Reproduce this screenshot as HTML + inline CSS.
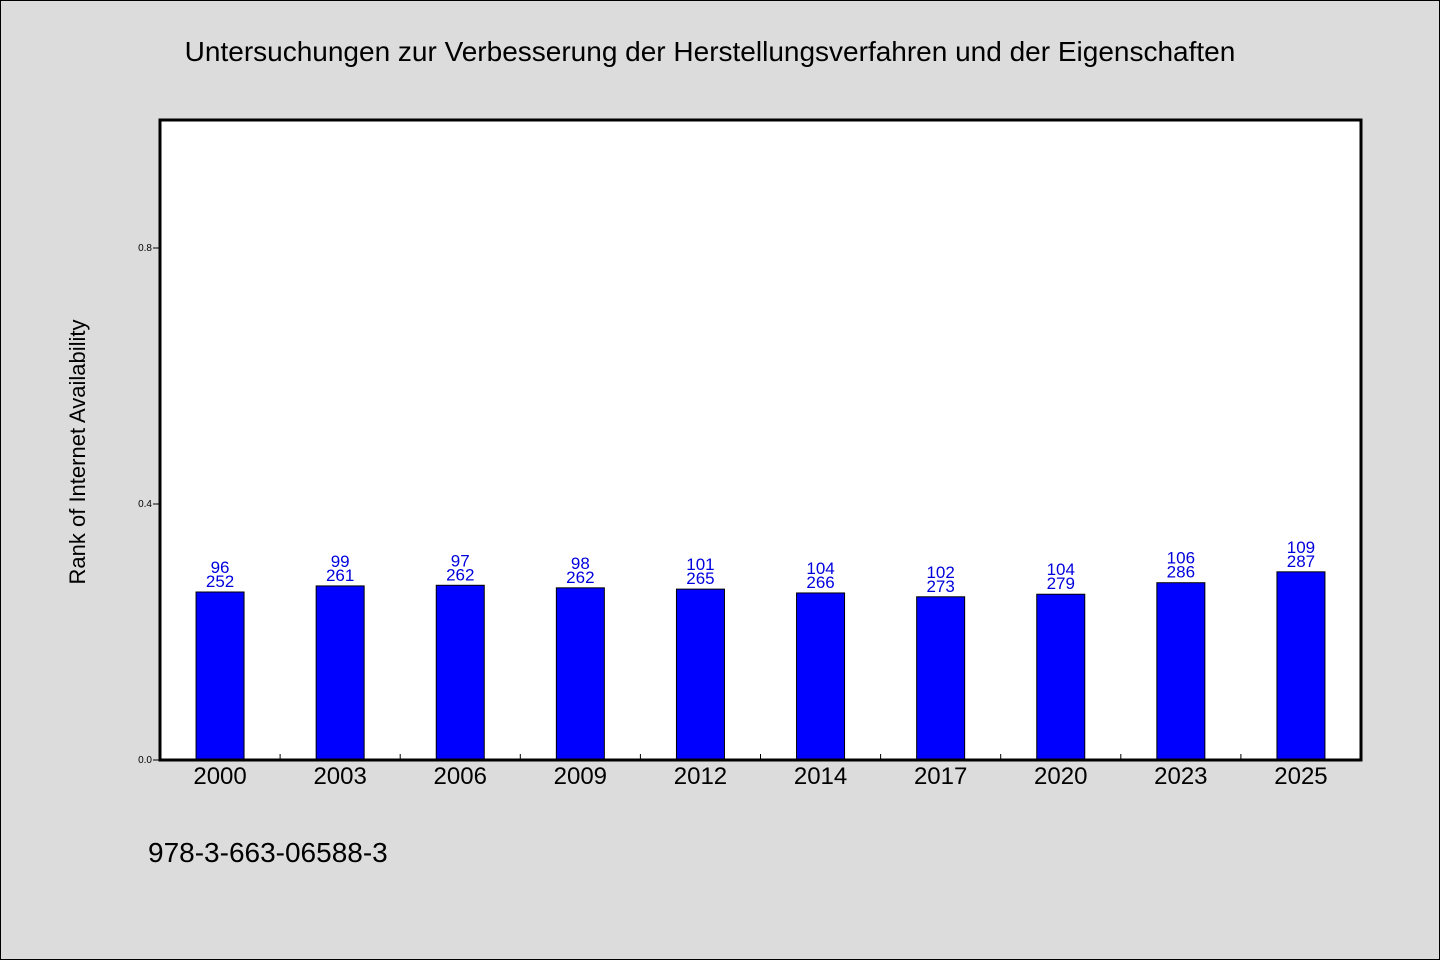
<!DOCTYPE html>
<html><head><meta charset="utf-8"><style>
body{margin:0;background:#dcdcdc;}
svg{display:block;font-family:"WenQuanYi Zen Hei","Liberation Sans",sans-serif;}
</style></head><body>
<svg id="chart" width="1440" height="960" xmlns="http://www.w3.org/2000/svg">
<rect x="0.5" y="0.5" width="1439" height="959" fill="#dcdcdc" stroke="#000"/>
<text x="710" y="61" font-size="28" text-anchor="middle" fill="#000">Untersuchungen zur Verbesserung der Herstellungsverfahren und der Eigenschaften</text>
<rect x="160" y="120" width="1201" height="640" fill="#fff"/>
<g id="marks"></g>
<rect x="160" y="120" width="1201" height="640" fill="none" stroke="#000" stroke-width="3"/>
<text transform="translate(85,452) rotate(-90)" font-size="22" text-anchor="middle" fill="#000">Rank of Internet Availability</text>
<text x="148" y="862" font-size="28" fill="#000">978-3-663-06588-3</text>
</svg>
<script>
const categories=["2000","2003","2006","2009","2012","2014","2017","2020","2023","2025"];
const values=[0.2625,0.272,0.273,0.269,0.267,0.261,0.255,0.259,0.277,0.294];
const labelTop=["96","99","97","98","101","104","102","104","106","109"];
const labelBottom=["252","261","262","262","265","266","273","279","286","287"];
const yTicks=[0,0.4,0.8];
const yTickLabels=["0.0","0.4","0.8"];
const NS="http://www.w3.org/2000/svg";
const X0=160,X1=1361,Y0=760,Y1=120;
const step=(X1-X0)/categories.length;
const y=v=>Y0-v*(Y0-Y1)/1.0;
const xc=i=>X0+step*(i+0.5);
const g=document.getElementById('marks');
function mk(t,a){const e=document.createElementNS(NS,t);for(const k in a)e.setAttribute(k,a[k]);g.appendChild(e);return e;}
yTicks.forEach((v,i)=>{
  const l=mk('line',{x1:X0-7,x2:X0,y1:y(v),y2:y(v),stroke:'#000'});
  
  
  const t=mk('text',{x:X0-8,y:y(v)+3,'font-size':10,'text-anchor':'end'});
  t.textContent=yTickLabels[i];
  
  
});
categories.forEach((c,i)=>{
  if(i>0){const tk=mk('line',{x1:X0+step*i,x2:X0+step*i,y1:Y0,y2:Y0-6,stroke:'#000'});
  
  }
  const b=mk('rect',{x:xc(i)-24,y:y(values[i]),width:48,height:Y0-y(values[i]),fill:'#0000ff',stroke:'#000','stroke-width':1});
  
  
  const t1=mk('text',{x:xc(i),y:y(values[i])-19,'font-size':17,'text-anchor':'middle',fill:'#0000dd'});
  t1.textContent=labelTop[i];
  
  
  const t2=mk('text',{x:xc(i),y:y(values[i])-5,'font-size':17,'text-anchor':'middle',fill:'#0000dd'});
  t2.textContent=labelBottom[i];
  
  
  const xl=mk('text',{x:xc(i),y:784,'font-size':24,'text-anchor':'middle',fill:'#000'});
  xl.textContent=c;
  
  
});
</script>
</body></html>
